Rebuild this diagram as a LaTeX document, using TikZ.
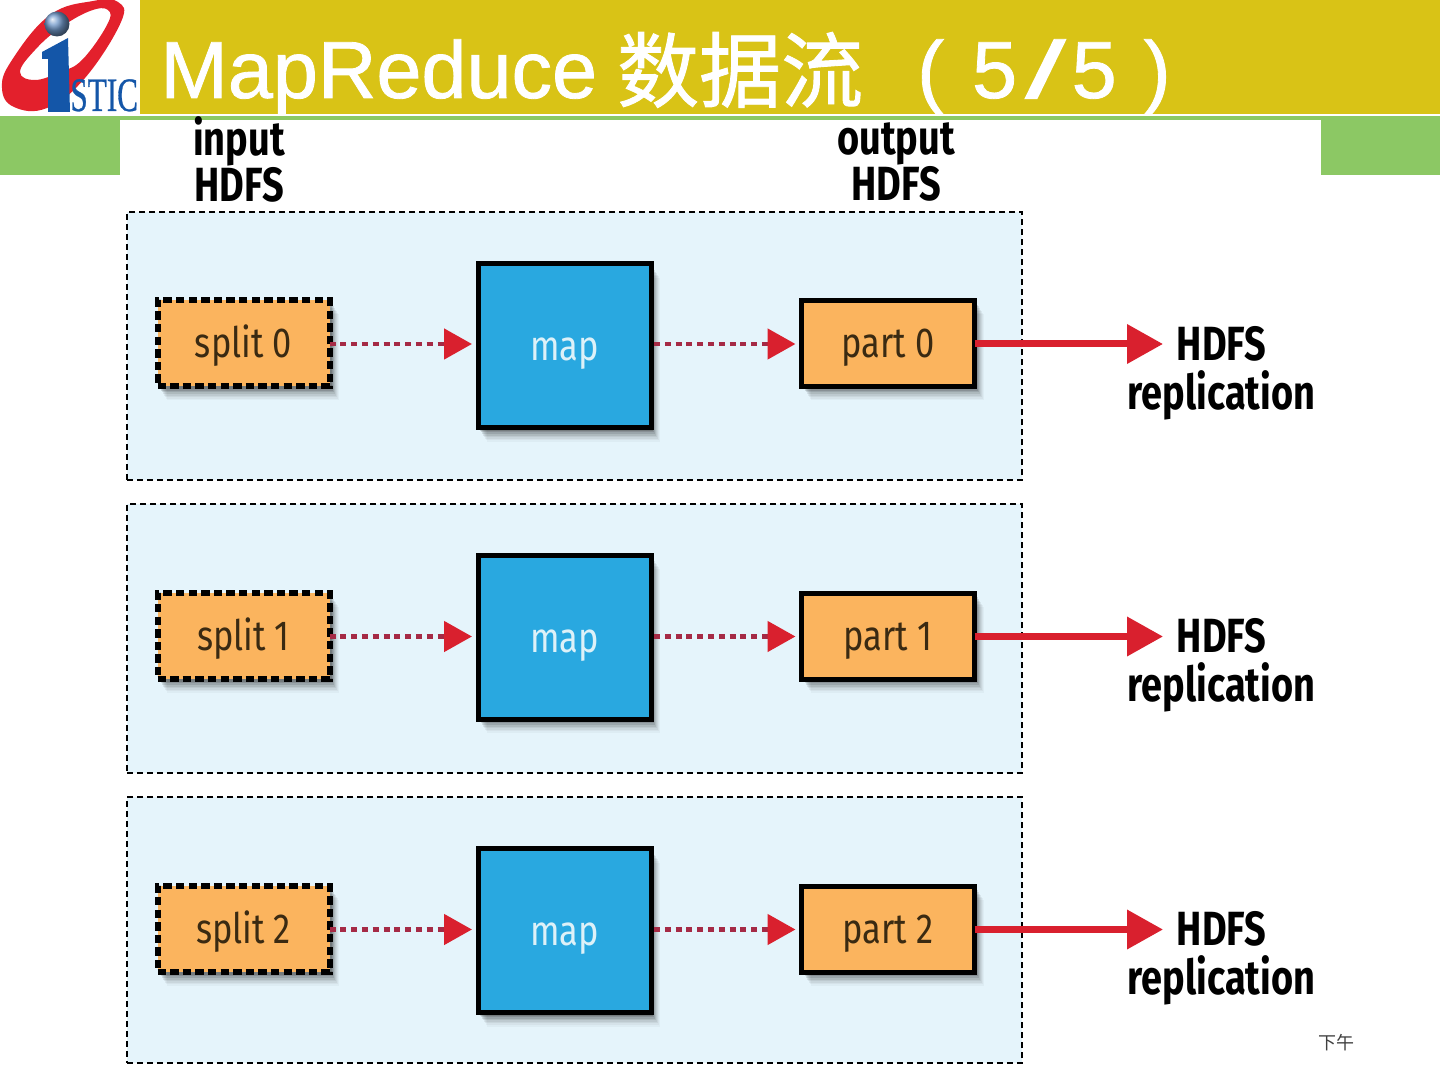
\documentclass[tikz,border=0pt]{standalone}
\usepackage{fontspec}
\usetikzlibrary{arrows.meta}
\usetikzlibrary{shadows}
\setmainfont{Liberation Sans}
\newfontfamily\titlefont[FakeBold=1.0]{Liberation Sans}
\newfontfamily\cjkfont{Noto Sans CJK SC}
\newfontfamily\cjktitle[FakeBold=1.1]{Noto Sans CJK SC}
\newfontfamily\labelfont[FakeStretch=0.79]{Fira Sans}
\newfontfamily\boxfont[FakeStretch=0.82]{Fira Sans}
\newfontfamily\logofont[FakeStretch=0.65,FakeBold=0.6]{Liberation Serif}

\definecolor{headgold}{HTML}{D9C316}
\definecolor{headgreen}{HTML}{8CC864}
\definecolor{panelblue}{HTML}{E5F4FB}
\definecolor{boxorange}{HTML}{FBB45E}
\definecolor{mapblue}{HTML}{29A8E0}
\definecolor{arrowred}{HTML}{D9202E}
\definecolor{dotred}{HTML}{A52A45}
\definecolor{logoblue}{HTML}{1456A8}
\definecolor{logored}{HTML}{E3202C}
\definecolor{boxtext}{HTML}{3A2A12}
\definecolor{maptext}{HTML}{DDF1F8}

\begin{document}
\begin{tikzpicture}[
    x=0.5pt, y=-0.5pt,
    softshadow/.style={
        general shadow={fill=black, opacity=.14, shadow xshift=1pt, shadow yshift=-1.5pt},
        general shadow={fill=black, opacity=.12, shadow xshift=1.5pt, shadow yshift=-2.2pt},
        general shadow={fill=black, opacity=.10, shadow xshift=2pt, shadow yshift=-3pt},
        general shadow={fill=black, opacity=.08, shadow xshift=2.5pt, shadow yshift=-3.8pt},
        general shadow={fill=black, opacity=.06, shadow xshift=3pt, shadow yshift=-4.6pt},
        general shadow={fill=black, opacity=.05, shadow xshift=3.5pt, shadow yshift=-5.4pt},
        general shadow={fill=black, opacity=.04, shadow xshift=4pt, shadow yshift=-6.2pt},
        general shadow={fill=black, opacity=.03, shadow xshift=4.5pt, shadow yshift=-7pt}
    }, % Soft edge under the boxes
    panel/.style={draw=black, fill=panelblue, line width=1pt, dash pattern=on 3pt off 2pt, minimum width=447.5pt, outer sep=0pt},
    splitbox/.style={softshadow, draw=black, fill=boxorange, line width=3pt, dash pattern=on 4.2pt off 2.1pt, minimum width=86pt, minimum height=43pt, outer sep=0pt, text=boxtext, text height=16pt, text depth=2pt, font=\boxfont\fontsize{21}{22}\selectfont},
    mapbox/.style={softshadow, draw=black, fill=mapblue, line width=2.5pt, minimum width=86.5pt, minimum height=82pt, outer sep=0pt, text=maptext, text height=17pt, text depth=2pt, font=\boxfont\fontsize{21}{22}\selectfont},
    partbox/.style={softshadow, draw=black, fill=boxorange, line width=2.5pt, minimum width=86.5pt, minimum height=43pt, outer sep=0pt, text=boxtext, text height=16pt, text depth=2pt, font=\boxfont\fontsize{21}{22}\selectfont},
    headlabel/.style={align=center, inner sep=0pt, font=\labelfont\bfseries\fontsize{24}{23}\selectfont},
    replabel/.style={align=center, inner sep=0pt, font=\labelfont\bfseries\fontsize{24}{24.5}\selectfont},
    dotarrow/.style={draw=dotred, line width=2.4pt, dash pattern=on 3pt off 2.4pt, shorten >=3pt, -{Triangle[length=14pt, width=15pt, fill=arrowred, color=arrowred]}},
    solidarrow/.style={draw=arrowred, line width=3.5pt, -{Triangle[length=18pt, width=19pt]}}
]
\useasboundingbox (0,0) rectangle (1440,1080);

% Header bands
\fill[headgold] (140,0) rectangle (1440,114);
\fill[headgreen] (0,116) rectangle (1440,120);
\fill[headgreen] (0,116) rectangle (120,175);
\fill[headgreen] (1321,116) rectangle (1440,175);

% Logo
\fill[logored, even odd rule] plot [smooth cycle, tension=0.7] coordinates {
    (2,88) (12,60) (50,15) (93,1) (118,2) (121,22) (85,78) (47,108) (14,107)
} plot [smooth cycle, tension=0.7] coordinates {
    (20,72) (35,50) (60,28) (90,11) (108,10) (107,25) (82,60) (60,72) (35,80)
};
\shade[ball color=logoblue!60!white] (57,24) circle [radius=12.5];
\fill[logoblue] (42,52) -- (68,38) -- (70,112) -- (48,112) -- (48,59) -- (42,59) -- cycle;
\node[inner sep=0pt, text=logoblue, anchor=base west] (logotext) at (70,111) {\logofont\fontsize{24}{24}\selectfont STIC};

% Title
\node[anchor=base west, inner sep=0pt, text=white] (title) at (160,98) {\titlefont\fontsize{40.5}{44}\selectfont MapReduce\hspace{10pt}\raisebox{-1.5pt}{\cjktitle\fontsize{41}{44}\selectfont 数据流}\hspace{27pt}(\hspace{14pt}5\hspace{4pt}\scalebox{1.8}[1]{/}\hspace{3pt}5\hspace{13.5pt})};

% Column heads
\node[headlabel] (inputhead) at (239,159) {input\\HDFS};
\node[headlabel] (outputhead) at (896,162) {output\\HDFS};

% One row per split
\foreach \row/\yy/\ph in {0/346/268, 1/638.5/269, 2/930/266} {
    \node[panel, minimum height=\ph*0.5pt] (panel\row) at (574.5,\yy) {};
}
\foreach \row/\yy/\my in {0/344/346, 1/636.5/637, 2/929.5/930.5} {
    \node[splitbox] (split\row) at (243.5,\yy-0.5) {split \row};
    \node[mapbox] (map\row) at (564.5,\my) {map};
    \node[partbox] (part\row) at (888,\yy-0.5) {part \row};
    \coordinate (repl\row) at (1163,\yy);
    \draw[dotarrow] (split\row.east |- repl\row) -- (map\row.west |- repl\row);
    \draw[dotarrow, shorten <=1.5pt] (map\row.east |- repl\row) -- (part\row.west |- repl\row);
    \draw[solidarrow] (part\row.east |- repl\row) -- (repl\row);
    \node[replabel] (label\row) at (1221.5,\yy+29) {HDFS\\replication};
}

% Slide footer
\node[inner sep=0pt, text=black!75] (footer) at (1336,1043) {\cjkfont\fontsize{9}{9}\selectfont 下午};

\end{tikzpicture}
\end{document}
